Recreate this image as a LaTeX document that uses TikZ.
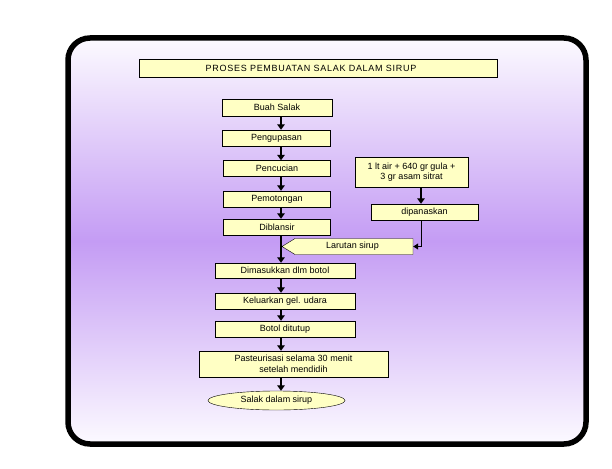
\documentclass[tikz,border=0pt]{standalone}
\usepackage{fontspec}
\setmainfont{Liberation Sans}
\newfontfamily\titlefont[LetterSpace=8]{Liberation Sans}
\usetikzlibrary{arrows.meta,shapes.geometric}

\definecolor{boxfill}{RGB}{255,255,196}
\definecolor{bgpurple}{RGB}{196,156,244}
\definecolor{bglight}{RGB}{252,250,255}

\newcommand{\SpineX}{281}
\newcommand{\BranchX}{421}

\begin{document}
\begin{tikzpicture}[
  x = 1pt, y = -1pt,
  frame/.style={line width=5.5pt,black,rounded corners=22pt,top color=bglight,bottom color=bglight,middle color=bgpurple},
  box/.style={draw=black,thin,fill=boxfill,inner sep=1pt,font=\fontsize{9}{10.5}\selectfont,align=center},
  arr/.style={line width=2.3pt,black,-{Triangle[width=7.5pt,length=5.5pt]}},
  arrthin/.style={line width=1pt,black,-{Triangle[width=6pt,length=5pt]}}
  ]
  \useasboundingbox (0,0) rectangle (612,468);

	%draw the frame
	\draw[frame] (68,38) rectangle (586,444);

	%draw the title
	\node[box,minimum width=358,minimum height=18,font=\titlefont\fontsize{9}{10}\selectfont] (judul) at (318,68) {PROSES PEMBUATAN SALAK DALAM SIRUP\hspace{14pt}};

	% main steps
	\node[box,minimum width=110,minimum height=17] (buah) at (277,107.5) {Buah Salak};
	\node[box,minimum width=108,minimum height=16] (kupas) at (276.5,138) {Pengupasan};
	\node[box,minimum width=107,minimum height=16] (cuci) at (277,168.5) {Pencucian};
	\node[box,minimum width=107,minimum height=16] (potong) at (277,199) {Pemotongan};
	\node[box,minimum width=107,minimum height=16] (blansir) at (277,227) {Diblansir};
	\node[box,minimum width=140,minimum height=15] (botol) at (285,270.5) {Dimasukkan dlm botol};
	\node[box,minimum width=140,minimum height=16] (udara) at (285,301) {Keluarkan gel. udara};
	\node[box,minimum width=140,minimum height=16] (tutup) at (285,329) {Botol ditutup};
	\node[box,minimum width=189,minimum height=26] (pasteur) at (293.5,364) {Pasteurisasi selama 30 menit\\setelah mendidih};
	\node[box,ellipse,minimum width=137,minimum height=19] (hasil) at (276.5,400.5) {Salak dalam sirup};

	% syrup branch
	\node[box,minimum width=113,minimum height=30] (bahan) at (411.5,172) {1 lt air + 640 gr gula +\\3 gr asam sitrat};
	\node[box,minimum width=107,minimum height=16] (panas) at (424.5,212) {dipanaskan};
	\draw[thin,fill=boxfill] (282,246.5) -- (295,238.5) -- (413,238.5) -- (413,254.5) -- (295,254.5) -- cycle;
	\node[box,draw=none,fill=none,minimum width=131,minimum height=16] (larutan) at (347.5,246.5) {\hspace{10pt}Larutan sirup};

	\coordinate (spine) at (\SpineX,0);
	\coordinate (branch) at (\BranchX,0);

	%draw the arrows
	\draw[arr] (buah.south -| spine) -- (kupas.north -| spine);
	\draw[arr] (kupas.south -| spine) -- (cuci.north -| spine);
	\draw[arr] (cuci.south -| spine) -- (potong.north -| spine);
	\draw[arr] (potong.south -| spine) -- (blansir.north -| spine);
	\draw[arr] (blansir.south -| spine) -- (botol.north -| spine);
	\draw[arr] (botol.south -| spine) -- (udara.north -| spine);
	\draw[arr] (udara.south -| spine) -- (tutup.north -| spine);
	\draw[arr] (tutup.south -| spine) -- (pasteur.north -| spine);
	\draw[arr] (pasteur.south -| spine) -- (hasil.north -| spine);

	\draw[arr] (bahan.south -| branch) -- (panas.north -| branch);
	\draw[arrthin] (panas.south -| branch) |- (larutan.east);

\end{tikzpicture}
\end{document}
